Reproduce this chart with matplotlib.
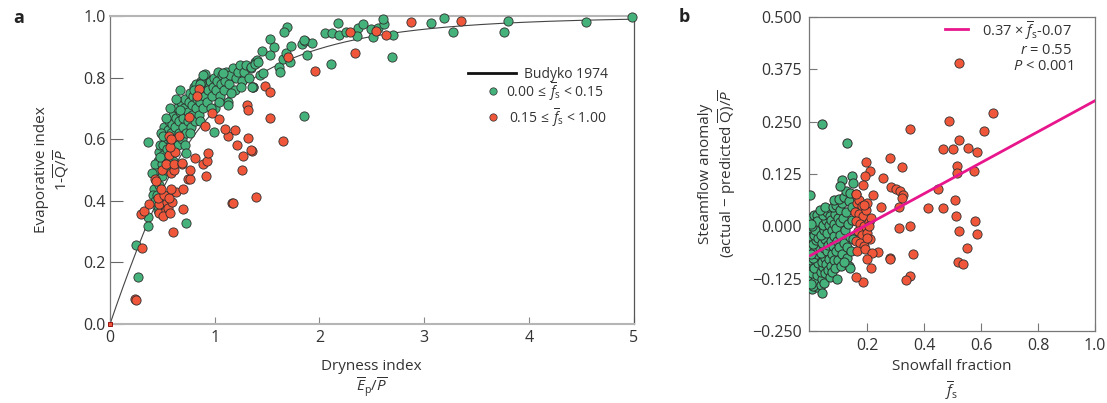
import numpy as np
import matplotlib
matplotlib.use("Agg")
import matplotlib.pyplot as plt
from matplotlib.ticker import FormatStrFormatter

plt.rcParams['font.family'] = ['Open Sans', 'DejaVu Sans']
plt.rcParams['mathtext.fontset'] = 'custom'
plt.rcParams['mathtext.rm'] = 'Open Sans'
plt.rcParams['mathtext.it'] = 'Open Sans:italic'
plt.rcParams['mathtext.bf'] = 'Open Sans:bold'

TXT = '#333333'
GREEN = '#45b27b'
RED = '#f0573a'
EDGE = '#2e2e2e'
PINK = '#e8168c'

# ---------------- Panel a data: dryness index vs evaporative index ----------------
a_green_x = [0.42, 0.44, 0.45, 0.46, 0.47, 0.48, 0.43, 0.50, 0.50, 0.51, 0.51, 0.52, 0.52, 0.53, 0.54,
             0.55, 0.55, 0.56, 0.57, 0.58, 0.58, 0.59, 0.60, 0.61, 0.62, 0.62, 0.63, 0.64, 0.65, 0.66,
             0.66, 0.67, 0.68, 0.69, 0.70, 0.70, 0.71, 0.72, 0.73, 0.74, 0.74, 0.75, 0.76, 0.77, 0.78,
             0.78, 0.79, 0.80, 0.81, 0.82, 0.83, 0.84, 0.85, 0.86, 0.87, 0.88, 0.89, 0.90, 0.91, 0.92,
             0.93, 0.94, 0.95, 0.97, 0.98, 0.99, 1.00, 1.01, 1.02, 1.03, 1.05, 1.06, 1.07, 1.09, 1.10,
             1.11, 1.13, 1.14, 1.15, 1.17, 1.19, 1.20, 1.22, 1.24, 1.26, 1.28, 1.30, 1.33, 1.35, 1.37,
             1.38, 0.47, 0.49, 0.53, 0.57, 0.60, 0.63, 0.67, 0.72, 0.76, 0.82, 0.86, 0.96, 1.04, 0.90,
             0.87, 1.40, 1.37, 0.907, 1.076, 0.869, 0.36, 0.40, 0.41, 0.366, 0.36, 0.248, 0.264, 0.726,
             0.46, 0.46, 0.48, 0.43, 0.45, 0.80, 0.86, 0.89, 0.51, 0.67, 0.73, 0.99, 1.13, 1.16, 1.25,
             1.69, 1.66, 1.53, 1.57, 1.45, 1.53, 1.40, 1.35, 1.38, 1.41, 1.61, 1.65, 1.68, 1.72, 1.73,
             1.83, 1.86, 1.93, 1.88, 1.62, 1.43, 1.46, 1.36, 2.11, 1.85, 2.05, 2.12, 2.19, 2.18, 2.37,
             2.42, 2.36, 2.49, 2.56, 2.62, 2.61, 2.51, 2.70, 2.69, 2.25, 1.85, 3.07, 3.19, 3.28, 3.80,
             3.76, 4.55, 4.99]
a_green_y = [0.44, 0.47, 0.50, 0.53, 0.56, 0.58, 0.52, 0.48, 0.52, 0.55, 0.58, 0.61, 0.64, 0.50, 0.57,
             0.60, 0.63, 0.66, 0.53, 0.59, 0.62, 0.65, 0.68, 0.56, 0.60, 0.64, 0.67, 0.70, 0.58, 0.62,
             0.66, 0.69, 0.72, 0.60, 0.64, 0.67, 0.70, 0.73, 0.62, 0.66, 0.69, 0.72, 0.75, 0.64, 0.68,
             0.71, 0.74, 0.77, 0.66, 0.70, 0.73, 0.76, 0.68, 0.72, 0.75, 0.78, 0.70, 0.74, 0.77, 0.80,
             0.72, 0.76, 0.79, 0.74, 0.77, 0.80, 0.70, 0.76, 0.79, 0.82, 0.74, 0.78, 0.81, 0.76, 0.79,
             0.82, 0.72, 0.78, 0.81, 0.83, 0.76, 0.80, 0.82, 0.84, 0.79, 0.82, 0.84, 0.80, 0.83, 0.77,
             0.85, 0.45, 0.62, 0.67, 0.70, 0.53, 0.73, 0.76, 0.58, 0.62, 0.78, 0.66, 0.70, 0.72, 0.81,
             0.79, 0.85, 0.77, 0.811, 0.816, 0.784, 0.59, 0.49, 0.42, 0.348, 0.318, 0.256, 0.152, 0.329,
             0.37, 0.383, 0.543, 0.40, 0.42, 0.76, 0.78, 0.81, 0.61, 0.695, 0.554, 0.624, 0.711, 0.75, 0.77,
             0.965, 0.949, 0.925, 0.90, 0.887, 0.873, 0.857, 0.835, 0.845, 0.85, 0.835, 0.86, 0.88, 0.85, 0.904,
             0.91, 0.92, 0.913, 0.873, 0.817, 0.808, 0.814, 0.77, 0.846, 0.676, 0.944, 0.946, 0.94, 0.978, 0.96,
             0.973, 0.936, 0.957, 0.962, 0.975, 0.992, 0.933, 0.94, 0.868, 0.949, 0.922, 0.978, 0.995, 0.947, 0.984,
             0.947, 0.98, 0.998]

a_red_x = [0.239, 0.25, 0.31, 0.30, 0.32, 0.375, 0.47, 0.53, 0.47, 0.51, 0.54, 0.557, 0.573, 0.59, 0.60,
           0.694, 1.165, 0.46, 0.52, 0.56, 0.63, 0.49, 0.58, 0.70, 0.43, 0.44, 0.74, 0.76, 0.50, 0.58,
           0.61, 0.76, 0.53, 0.61, 0.69, 0.56, 0.62, 0.81, 0.89, 0.93, 0.94, 0.92, 0.56, 0.66, 1.13,
           1.19, 1.21, 1.32, 1.27, 1.36, 1.26, 1.17, 1.39, 0.85, 0.83, 0.97, 1.04, 0.75, 0.91, 1.31,
           1.32, 1.10, 1.53, 1.65, 1.35, 1.48, 1.53, 1.70, 1.96, 2.34, 2.29, 2.54, 2.64, 2.875, 3.35,
           0.573, 0.69, 0.58]
a_red_y = [0.082, 0.078, 0.248, 0.357, 0.368, 0.39, 0.36, 0.37, 0.39, 0.35, 0.397, 0.376, 0.359, 0.397, 0.298,
           0.372, 0.392, 0.41, 0.42, 0.41, 0.43, 0.44, 0.44, 0.44, 0.47, 0.465, 0.47, 0.47, 0.50, 0.49,
           0.50, 0.50, 0.52, 0.52, 0.52, 0.55, 0.56, 0.54, 0.52, 0.53, 0.556, 0.48, 0.61, 0.61, 0.61,
           0.63, 0.583, 0.603, 0.545, 0.563, 0.50, 0.394, 0.413, 0.763, 0.74, 0.686, 0.666, 0.673, 0.643, 0.711,
           0.695, 0.632, 0.668, 0.596, 0.565, 0.774, 0.754, 0.868, 0.821, 0.879, 0.949, 0.952, 0.938, 0.98, 0.985,
           0.576, 0.524, 0.60]

origin_point = (0.0, 0.0)

# ---------------- Panel b data: snowfall fraction vs streamflow anomaly ----------------
b_green_x = [0.005, 0.012, 0.004, 0.015, 0.006, 0.011, 0.003, 0.016, 0.008, 0.002, 0.013, 0.006, 0.017, 0.004,
             0.010, 0.003, 0.014, 0.022, 0.028, 0.020, 0.030, 0.024, 0.019, 0.031, 0.025, 0.021, 0.029, 0.023,
             0.032, 0.026, 0.020, 0.030, 0.024, 0.009, 0.018, 0.007, 0.025, 0.014, 0.027, 0.010, 0.022, 0.015,
             0.033, 0.009, 0.019, 0.012, 0.028, 0.016, 0.007, 0.024, 0.001, 0.002, 0.001,
             0.036, 0.042, 0.048, 0.038, 0.045, 0.052, 0.040, 0.050, 0.056, 0.037, 0.047, 0.058, 0.041, 0.053,
             0.062, 0.039, 0.049, 0.060, 0.044, 0.055, 0.065, 0.046, 0.058, 0.068, 0.063, 0.066, 0.070, 0.040,
             0.034, 0.052,
             0.072, 0.078, 0.075, 0.082, 0.088, 0.073, 0.080, 0.090, 0.077, 0.085, 0.095, 0.074, 0.083, 0.092,
             0.098, 0.100, 0.087, 0.096, 0.104, 0.079, 0.091, 0.103, 0.106, 0.108, 0.095, 0.110, 0.085, 0.100,
             0.112, 0.118, 0.122, 0.115, 0.125, 0.130, 0.135, 0.140, 0.128, 0.138, 0.132, 0.145, 0.120, 0.135,
             0.148, 0.142, 0.150, 0.126, 0.140, 0.118,
             0.042, 0.128, 0.000, 0.145, 0.113, 0.104, 0.151]
b_green_y = [-0.150, -0.138, -0.126, -0.115, -0.104, -0.092, -0.081, -0.070, -0.059, -0.047, -0.036, -0.025,
             -0.014, -0.003, 0.008, 0.019, 0.028, -0.145, -0.132, -0.121, -0.109, -0.097, -0.085, -0.074,
             -0.062, -0.051, -0.040, -0.029, -0.018, -0.006, 0.005, 0.016, 0.027, -0.143, -0.128, -0.112,
             -0.117, -0.100, -0.088, -0.075, -0.066, -0.055, -0.052, -0.042, -0.032, -0.020, -0.028, -0.008,
             0.000, 0.012, -0.138, -0.065, 0.006,
             -0.140, -0.125, -0.135, -0.110, -0.098, -0.112, -0.085, -0.075, -0.090, -0.063, -0.052, -0.060,
             -0.040, -0.030, -0.045, -0.020, -0.008, -0.015, 0.004, 0.015, 0.002, 0.028, 0.035, 0.025, -0.105,
             -0.078, -0.120, -0.160, 0.040, 0.045,
             -0.095, -0.110, -0.065, -0.080, -0.100, -0.035, -0.048, -0.060, -0.010, -0.022, -0.035, 0.015,
             0.005, -0.005, -0.080, -0.050, 0.030, 0.020, 0.010, 0.045, 0.050, 0.040, -0.020, -0.095, -0.125,
             0.055, 0.062, 0.065,
             -0.065, -0.040, -0.010, 0.020, 0.035, -0.075, -0.095, -0.100, -0.050, -0.025, 0.005, 0.015, 0.070,
             0.060, 0.045, -0.060, -0.030, 0.085, 0.080, -0.085,
             0.245, 0.200, 0.074, 0.119, 0.111, 0.096, 0.103]

b_red_x = [0.160, 0.165, 0.172, 0.180, 0.158, 0.170, 0.185, 0.195, 0.162, 0.175, 0.190, 0.205, 0.168, 0.182,
           0.198, 0.210, 0.160, 0.175, 0.188, 0.200, 0.215, 0.165, 0.192,
           0.521, 0.640, 0.488, 0.350, 0.610, 0.523, 0.467, 0.500, 0.555, 0.584, 0.514, 0.516, 0.576, 0.450,
           0.508, 0.414, 0.465, 0.512, 0.578, 0.521, 0.584, 0.550, 0.520, 0.537, 0.362, 0.350, 0.336, 0.281,
           0.350, 0.311, 0.280, 0.323, 0.254, 0.285, 0.300, 0.316, 0.327, 0.322, 0.311, 0.247, 0.221, 0.194,
           0.210, 0.192, 0.186, 0.187, 0.207, 0.198, 0.239, 0.216, 0.198, 0.215, 0.184, 0.160, 0.280, 0.160]
b_red_y = [0.078, 0.055, 0.062, 0.048, 0.035, 0.030, 0.025, 0.040, 0.012, 0.005, 0.000, 0.010, -0.012, -0.020,
           -0.015, -0.030, -0.035, -0.040, -0.048, 0.055, 0.020, -0.060, -0.055,
           0.390, 0.271, 0.251, 0.232, 0.228, 0.206, 0.184, 0.184, 0.187, 0.177, 0.143, 0.127, 0.132, 0.089,
           0.062, 0.044, 0.044, 0.025, 0.013, -0.011, -0.019, -0.051, -0.086, -0.091, -0.065, -0.118, -0.128,
           -0.075, 0.000, -0.003, 0.162, 0.141, 0.115, 0.095, 0.090, 0.085, 0.075, 0.068, 0.046, 0.046, 0.074,
           0.153, 0.131, 0.119, 0.099, 0.050, 0.001, -0.028, -0.061, -0.063, -0.077, -0.100, -0.132, -0.120,
           -0.077, 0.078]

fit_slope = 0.37
fit_intercept = -0.07

a_xticks = [0, 1, 2, 3, 4, 5]
a_yticks = [0.0, 0.2, 0.4, 0.6, 0.8, 1.0]
b_xticks = [0.2, 0.4, 0.6, 0.8, 1.0]
b_yticks = [-0.25, -0.125, 0.0, 0.125, 0.25, 0.375, 0.5]

# ---------------- Figure ----------------
fig = plt.figure(figsize=(11.07, 4.03), dpi=100)
axa = fig.add_axes([0.0994, 0.196, 0.4729, 0.764])
axb = fig.add_axes([0.7304, 0.1787, 0.2588, 0.7793])

msize = 44

# Panel a
xb = np.linspace(1e-4, 5, 400)
yb = np.sqrt(xb * np.tanh(1.0 / xb) * (1 - np.exp(-xb)))
axa.plot(np.concatenate([[0], xb]), np.concatenate([[0], yb]), color='#444444', lw=0.8, zorder=2)
axa.scatter(a_green_x, a_green_y, s=msize, c=GREEN, edgecolors=EDGE, linewidths=0.6, zorder=3, clip_on=False)
axa.scatter(a_red_x, a_red_y, s=msize, c=RED, edgecolors=EDGE, linewidths=0.6, zorder=4, clip_on=False)
axa.scatter([origin_point[0]], [origin_point[1]], s=10, marker='s', c=RED, edgecolors='#8b0000',
            linewidths=0.6, zorder=5, clip_on=False)
axa.set_xlim(0, 5)
axa.set_ylim(0, 1.0)
axa.set_xticks(a_xticks)
axa.set_yticks(a_yticks)
axa.yaxis.set_major_formatter(FormatStrFormatter('%.1f'))
axa.tick_params(axis='y', direction='in', length=9, width=0.8, color='#666666', labelsize=11.5,
                labelcolor=TXT, pad=3)
axa.tick_params(axis='x', direction='in', length=5, width=0.8, color='#888888', labelsize=11.5,
                labelcolor=TXT, pad=4)
for side in ['top', 'bottom']:
    axa.spines[side].set_color('#b5b5b5')
    axa.spines[side].set_linewidth(1.5)
axa.spines['left'].set_color('#777777')
axa.spines['left'].set_linewidth(0.9)
axa.spines['right'].set_color('#555555')
axa.spines['right'].set_linewidth(0.9)
axa.set_xlabel('Dryness index\n' + r'$\overline{E}_\mathrm{p}/\overline{P}$', fontsize=11,
               color=TXT, labelpad=10, linespacing=1.1)
axa.set_ylabel('Evaporative index\n' + r'1-$\overline{\mathrm{Q}}/\overline{P}$', fontsize=11,
               color=TXT, labelpad=8, linespacing=1.2)

# legend for panel a (drawn in axes fraction)
axa.plot([0.683, 0.776], [0.815, 0.815], color='#111111', lw=2, transform=axa.transAxes)
axa.text(0.791, 0.812, 'Budyko 1974', ha='left', va='center', fontsize=10, color=TXT,
         transform=axa.transAxes)
axa.scatter([0.732], [0.756], s=28, c=GREEN, edgecolors=EDGE, linewidths=0.5, transform=axa.transAxes)
axa.text(0.757, 0.752, r'0.00$\,\leq\,\overline{f}_\mathrm{s}$ < 0.15', ha='left', va='center',
         fontsize=10, color=TXT, transform=axa.transAxes)
axa.scatter([0.732], [0.673], s=28, c=RED, edgecolors=EDGE, linewidths=0.5, transform=axa.transAxes)
axa.text(0.762, 0.669, r'0.15$\,\leq\,\overline{f}_\mathrm{s}$ < 1.00', ha='left', va='center',
         fontsize=10, color=TXT, transform=axa.transAxes)

# Panel b
axb.scatter(b_green_x, b_green_y, s=msize, c=GREEN, edgecolors=EDGE, linewidths=0.7, zorder=3)
axb.scatter(b_red_x, b_red_y, s=msize, c=RED, edgecolors=EDGE, linewidths=0.6, zorder=3)
xf = np.array([0.0, 1.0])
axb.plot(xf, fit_slope * xf + fit_intercept, color=PINK, lw=2, zorder=4)
axb.set_xlim(-0.006, 1.0)
axb.set_ylim(-0.25, 0.5)
axb.set_xticks(b_xticks)
axb.set_yticks(b_yticks)
axb.xaxis.set_major_formatter(FormatStrFormatter('%.1f'))
axb.yaxis.set_major_formatter(plt.FuncFormatter(lambda v, p: ('%.3f' % v).replace('-', '\u2212')))
axb.tick_params(axis='both', direction='in', length=6, width=0.8, color='#777777', labelsize=11.5,
                labelcolor=TXT, pad=5)
for side in axb.spines:
    axb.spines[side].set_color('#777777')
    axb.spines[side].set_linewidth(0.9)
axb.set_xlabel('Snowfall fraction\n' + r'$\overline{f}_\mathrm{s}$', fontsize=11, color=TXT,
               labelpad=4, linespacing=1.3)
axb.set_ylabel('Steamflow anomaly\n(actual \u2212 predicted ' + r'$\overline{\mathrm{Q}}$)/$\overline{P}$',
               fontsize=11, color=TXT, labelpad=10, linespacing=1.2)

axb.plot([0.476, 0.558], [0.961, 0.961], color=PINK, lw=2, transform=axb.transAxes)
axb.text(0.92, 0.955, r'0.37 $\times$ $\overline{f}_\mathrm{s}$-0.07', ha='right', va='center',
         fontsize=10.5, color=TXT, transform=axb.transAxes)
axb.text(0.92, 0.892, r'$r$ = 0.55', ha='right', va='center', fontsize=10.5, color=TXT,
         transform=axb.transAxes)
axb.text(0.925, 0.841, r'$P$ < 0.001', ha='right', va='center', fontsize=10.5, color=TXT,
         transform=axb.transAxes)

fig.text(13 / 1107, 1 - 18 / 403, 'a', fontsize=13, fontweight='bold', color='#222222', va='center')
fig.text(679 / 1107, 1 - 17 / 403, 'b', fontsize=13, fontweight='bold', color='#222222', va='center')

fig.savefig('out.png', dpi=100)
